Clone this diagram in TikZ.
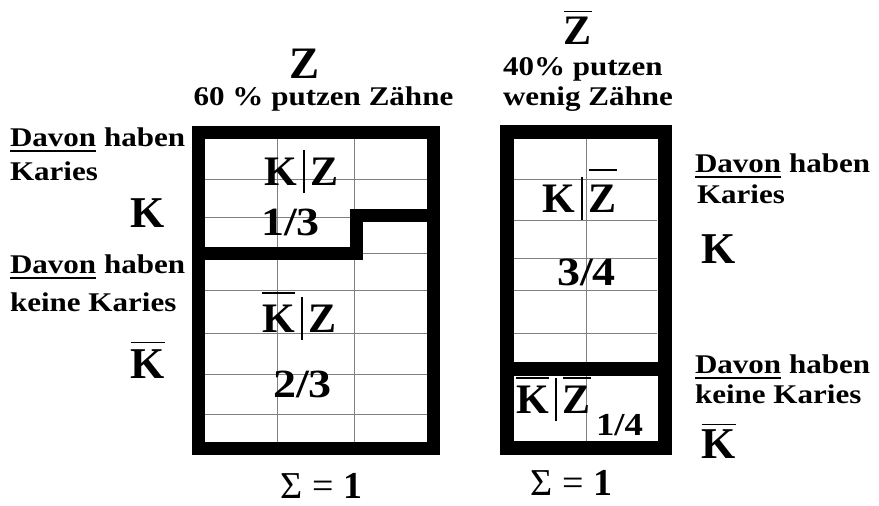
\documentclass[tikz,border=0pt]{standalone}
\usepackage{fontspec}
\setmainfont{Liberation Serif}
\newfontfamily\wide{Liberation Serif}[FakeStretch=1.15]
\newcommand\ovl[2][6pt]{\leavevmode\vbox{\hrule height 1.3pt\kern#1\hbox{#2}}}
\newcommand\ulin[1]{\leavevmode\vtop{\hbox{#1}\kern 3.5pt\hrule height 2pt}}
\newcommand\fs[1]{\fontsize{#1}{#1}\selectfont\bfseries}
\newcommand\vbr{\kern6pt\rule[-8pt]{2pt}{43pt}\kern6pt}
\newcommand\nodepth[1]{\raisebox{0pt}[\height][0pt]{#1}}
\begin{document}
\begin{tikzpicture}[x=1pt,y=-1pt,
  every node/.style={inner sep=0pt,outer sep=0pt},
  gridline/.style={draw=gray,line width=1pt},
  frameL/.style={draw=black,line width=13pt,line join=miter},
  frameR/.style={draw=black,line width=14pt,line join=miter},
  lbl/.style={anchor=base west,font={\wide\fs{27}}},
  bigK/.style={anchor=base,font={\fs{44}}},
  cell/.style={anchor=base west,font={\fs{42}}},
  frac/.style={anchor=base west,font={\wide\fs{40}}},
  sumtxt/.style={anchor=base,font={\fontsize{38}{38}\selectfont}}]
\useasboundingbox (0,0) rectangle (879,506);

% ---------- left box ----------
\foreach \y in {179,217,253,290,333,374,414}
  \draw[gridline] (205,\y) -- (427,\y);
\foreach \x in {277,354}
  \draw[gridline] (\x,139) -- (\x,442);
\draw[frameL] (198,132) rectangle (433,448.5);
\draw[frameL] (198,253.5) -- (356.5,253.5) -- (356.5,215) -- (433,215);

% ---------- right box ----------
\foreach \y in {179,220,258,290,333}
  \draw[gridline] (514,\y) -- (657,\y);
\draw[gridline] (586,139) -- (586,441);
\draw[frameR] (507,132) rectangle (664.5,448);
\draw[frameR] (507,369) -- (664.5,369);

% ---------- headings ----------
\node[anchor=base,font={\fs{45}}] (Zl) at (305,78) {Z};
\node[anchor=base,font={\wide\fs{27}}] (Zlt) at (323.5,105) {60 \% putzen Zähne};
\node[anchor=base,font={\fs{42}}] (Zr) at (578,45) {\ovl[5pt]{Z}};
\node[lbl] (Zrt1) at (503,75) {40\% putzen};
\node[lbl] (Zrt2) at (503,105) {wenig Zähne};

% ---------- left labels ----------
\node[lbl] (L1) at (10,146) {\ulin{Davon} haben};
\node[lbl] (L2) at (10,180) {Karies};
\node[bigK] (LK) at (148,227) {K};
\node[lbl] (L3) at (10,273) {\ulin{Davon} haben};
\node[lbl] (L4) at (10,311) {keine Karies};
\node[bigK] (LKb) at (148,378) {\ovl[6pt]{K}};

% ---------- right labels ----------
\node[lbl] (R1) at (695,172) {\ulin{Davon} haben};
\node[lbl] (R2) at (697,203) {Karies};
\node[bigK] (RK) at (719,263) {K};
\node[lbl] (R3) at (695,373) {\ulin{Davon} haben};
\node[lbl] (R4) at (695,403) {keine Karies};
\node[bigK] (RKb) at (719,458) {\ovl[4pt]{K}};

% ---------- cell texts ----------
\node[cell] (c1) at (264,185) {K\vbr Z};
\node[frac] (f1) at (261,235) {1/3};
\node[cell] (c2) at (262,332) {\ovl[11pt]{K}\vbr Z};
\node[frac] (f2) at (273,397) {2/3};
\node[cell] (c3) at (542,212) {K\vbr\ovl[14pt]{Z}};
\node[frac] (f3) at (557,285) {3/4};
\node[cell] (c4) at (516,413) {\ovl[7pt]{K}\vbr\ovl[7pt]{Z}};
\node[anchor=base west,font={\wide\fs{32}}] (f4) at (596,435) {1/4};

% ---------- sums ----------
\node[sumtxt] (s1) at (321.5,498) {\nodepth{Σ = \textbf{1}}};
\node[sumtxt] (s2) at (571.5,495) {\nodepth{Σ = \textbf{1}}};
\end{tikzpicture}
\end{document}
